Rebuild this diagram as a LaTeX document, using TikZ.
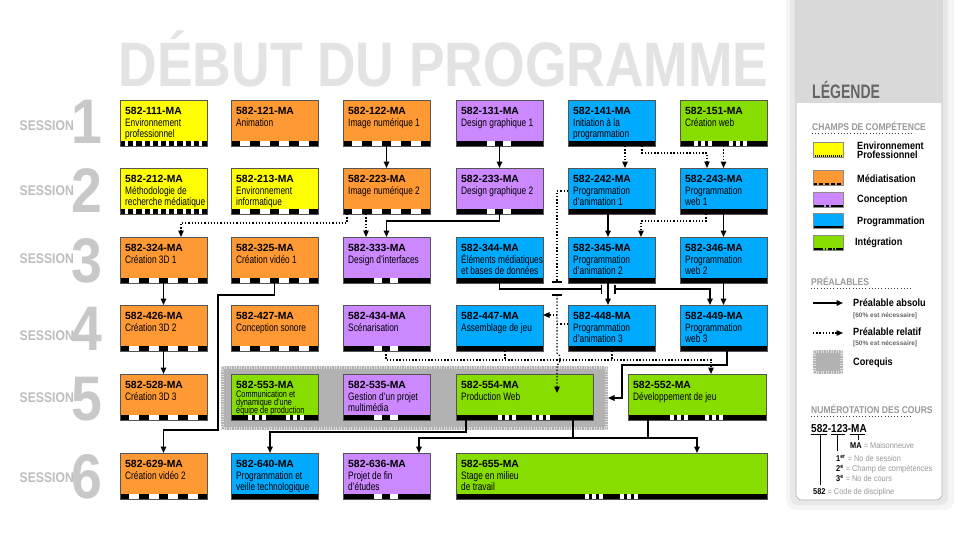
\documentclass[tikz,border=0pt]{standalone}
\usepackage{fontspec}
\setmainfont{Liberation Sans}
\newfontfamily\plainsans{Liberation Sans}
\newfontfamily\narrowsans[FakeStretch=0.77]{Liberation Sans}
\newfontfamily\condsans[FakeStretch=0.87]{Liberation Sans}
\newfontfamily\numsans[FakeStretch=0.88]{Liberation Sans}
\newfontfamily\titlesans[FakeStretch=0.85]{Liberation Sans}
\newfontfamily\legsans[FakeStretch=0.72]{Liberation Sans}
\usetikzlibrary{arrows.meta}
\definecolor{cyel}{HTML}{FFFF00}
\definecolor{cora}{HTML}{FF9933}
\definecolor{cpur}{HTML}{CC88FF}
\definecolor{cblu}{HTML}{00AAFF}
\definecolor{cgre}{HTML}{88DD00}
\definecolor{titlegray}{HTML}{E3E3E3}
\definecolor{sessgray}{HTML}{BEBEBE}
\definecolor{numgray}{HTML}{C8C8C8}
\definecolor{leggray}{HTML}{999999}
\definecolor{legdark}{HTML}{666666}
\definecolor{panelgray}{HTML}{D9D9D9}
\definecolor{boxline}{HTML}{555555}
\tikzset{
  tri/.tip={Triangle[width=5.5pt,length=6.5pt]},
  box/.style={inner sep=0pt,outer sep=0pt,minimum height=46pt,anchor=north west},
  boxedge/.style={draw=boxline,line width=0.6pt},
  codetext/.style={inner sep=0pt,anchor=base west,font=\plainsans\bfseries\fontsize{10.4}{12}\selectfont},
  desctext/.style={inner sep=0pt,anchor=base west,font=\narrowsans\fontsize{10.8}{12}\selectfont},
  smalldesc/.style={inner sep=0pt,anchor=base west,font=\narrowsans\fontsize{9.5}{10}\selectfont},
  stripdense/.style={dash pattern=on 5.2pt off 3pt},
  stripora/.style={dash pattern=on 9.4pt off 10pt},
  strippur/.style={dash pattern=on 31pt off 8pt on 8pt off 8pt on 400pt off 1pt},
  stripblu/.style={solid},
  stripgre/.style 2 args={dash pattern=on #1pt off 4pt on 3pt off 4pt on 3pt off 4pt on #2pt off 4pt on 3pt off 4pt on 3pt off 4pt on 400pt off 1pt},
  pa/.style={draw=black,line width=1.5pt,-tri},
  pal/.style={draw=black,line width=1.5pt},
  pr/.style={draw=black,line width=1.3pt,dash pattern=on 1.3pt off 1.9pt,-tri},
  prl/.style={draw=black,line width=1.3pt,dash pattern=on 1.3pt off 1.9pt},
  tick/.style={draw=black,line width=1.5pt},
  sess/.style={inner sep=0pt,anchor=base east,text=sessgray,font=\condsans\bfseries\fontsize{14}{14}\selectfont},
  num/.style={inner sep=0pt,anchor=base,text=numgray,font=\numsans\bfseries\fontsize{63}{63}\selectfont},
  coreqbox/.style={fill=black!30,inner sep=0pt,outer sep=0pt,anchor=north west},
  combline/.style={draw=white!88!black,line width=3pt,dash pattern=on 1pt off 1.5pt},
  lghead/.style={inner sep=0pt,anchor=base west,text=legdark,font=\legsans\bfseries\fontsize{19.5}{20}\selectfont},
  lgsub/.style={inner sep=0pt,anchor=base west,text=leggray,font=\condsans\bfseries\fontsize{9.8}{10}\selectfont},
  lgitem/.style={inner sep=0pt,anchor=base west,text=black,font=\condsans\bfseries\fontsize{10.5}{11}\selectfont},
  lgsmall/.style={inner sep=0pt,anchor=base west,text=legdark,font=\plainsans\bfseries\fontsize{6.5}{7}\selectfont},
  lgnum/.style={inner sep=0pt,anchor=base west,text=leggray,font=\numsans\fontsize{8.4}{9}\selectfont},
  legdots/.style={draw=black!75,line width=1pt,dash pattern=on 1pt off 2.2pt},
  swatchbox/.style={inner sep=0pt,outer sep=0pt,minimum width=30pt,minimum height=15pt,anchor=north west},
  numline/.style={draw=black,line width=0.8pt},
}
% course box: name, x, y, width, colour, strip style
\newcommand\course[6]{%
  \node[box,fill=#5,minimum width=#4pt] (c#1) at (#2,#3) {};
  \fill[white] (#2,{#3+41}) rectangle ({#2+#4},{#3+46});
  \draw[line width=5pt,#6] (#2,{#3+43.5}) -- ({#2+#4},{#3+43.5});
  \draw[boxedge] (c#1.north west) rectangle (c#1.south east);
  \node[codetext] (k#1) at ([shift={(5,14)}]c#1.north west) {582-#1-MA};
}
\newcommand\descone[2]{\node[desctext] (a#1) at ([shift={(5,26)}]c#1.north west) {#2};}
\newcommand\desctwo[3]{%
  \node[desctext] (a#1) at ([shift={(5,26)}]c#1.north west) {#2};
  \node[desctext] (b#1) at ([shift={(5,37)}]c#1.north west) {#3};}
\newcommand\combs[1]{%
  \draw[combline] ([yshift=-1.5pt]#1.north west) -- ([yshift=-1.5pt]#1.north east);
  \draw[combline] ([yshift=1.5pt]#1.south west) -- ([yshift=1.5pt]#1.south east);
  \draw[combline] ([xshift=1.5pt]#1.north west) -- ([xshift=1.5pt]#1.south west);
  \draw[combline] ([xshift=-1.5pt]#1.north east) -- ([xshift=-1.5pt]#1.south east);}
\newcommand\swatch[4]{%
  \node[swatchbox,fill=#3] (w#1) at (813,#2) {};
  \draw[line width=2pt,#4] ([yshift=1pt]w#1.south west) -- ([yshift=1pt]w#1.south east);
  \draw[draw=black!45,line width=0.5pt] (w#1.north west) rectangle (w#1.south east);}
\begin{document}
\begin{tikzpicture}[x=1pt,y=-1pt]
\useasboundingbox (0,0) rectangle (980,535);
\fill[white] (0,0) rectangle (980,535);

% title
\node[inner sep=0pt,anchor=base,text=titlegray,font=\titlesans\bfseries\fontsize{62.8}{63}\selectfont] (title) at (443.5,87) {DÉBUT DU PROGRAMME};

% sessions
\foreach \n/\sb/\nb in {1/130/143,2/195/212,3/263/282,4/340/350,5/402/420,6/482/498}{
  \node[sess] (s\n) at (74,\sb) {SESSION};
  \node[num] (n\n) at (86.5,\nb) {\n};
}

% corequis group
\node[coreqbox,minimum width=387pt,minimum height=64pt] (coreq) at (221,366) {};
\combs{coreq}

% row 1
\course{111}{120}{100}{87}{cyel}{stripdense}\desctwo{111}{Environnement}{professionnel}
\course{121}{231}{100}{87}{cora}{stripora}\descone{121}{Animation}
\course{122}{343}{100}{87}{cora}{stripora}\descone{122}{Image numérique 1}
\course{131}{456}{100}{87}{cpur}{strippur}\descone{131}{Design graphique 1}
\course{141}{568}{100}{87}{cblu}{stripblu}\desctwo{141}{Initiation à la}{programmation}
\course{151}{680}{100}{87}{cgre}{stripgre={14}{17}}\descone{151}{Création web}
% row 2
\course{212}{120}{168}{87}{cyel}{stripdense}\desctwo{212}{Méthodologie de}{recherche médiatique}
\course{213}{231}{168}{87}{cyel}{stripora}\desctwo{213}{Environnement}{informatique}
\course{223}{343}{168}{87}{cora}{stripora}\descone{223}{Image numérique 2}
\course{233}{456}{168}{87}{cpur}{strippur}\descone{233}{Design graphique 2}
\course{242}{568}{168}{87}{cblu}{stripblu}\desctwo{242}{Programmation}{d’animation 1}
\course{243}{680}{168}{87}{cblu}{stripblu}\desctwo{243}{Programmation}{web 1}
% row 3
\course{324}{120}{237}{87}{cora}{stripora}\descone{324}{Création 3D 1}
\course{325}{231}{237}{87}{cora}{stripora}\descone{325}{Création vidéo 1}
\course{333}{343}{237}{87}{cpur}{strippur}\descone{333}{Design d’interfaces}
\course{344}{456}{237}{87}{cblu}{stripblu}\desctwo{344}{Éléments médiatiques}{et bases de données}
\course{345}{568}{237}{87}{cblu}{stripblu}\desctwo{345}{Programmation}{d’animation 2}
\course{346}{680}{237}{87}{cblu}{stripblu}\desctwo{346}{Programmation}{web 2}
% row 4
\course{426}{120}{305}{87}{cora}{stripora}\descone{426}{Création 3D 2}
\course{427}{231}{305}{87}{cora}{stripora}\descone{427}{Conception sonore}
\course{434}{343}{305}{87}{cpur}{strippur}\descone{434}{Scénarisation}
\course{447}{456}{305}{87}{cblu}{stripblu}\descone{447}{Assemblage de jeu}
\course{448}{568}{305}{87}{cblu}{stripblu}\desctwo{448}{Programmation}{d’animation 3}
\course{449}{680}{305}{87}{cblu}{stripblu}\desctwo{449}{Programmation}{web 3}
% row 5
\course{528}{120}{374}{87}{cora}{stripora}\descone{528}{Création 3D 3}
\course{553}{231}{374}{87}{cgre}{stripgre={17}{20}}
\node[smalldesc] (a553) at ([shift={(5,23)}]c553.north west) {Communication et};
\node[smalldesc] (b553) at ([shift={(5,31)}]c553.north west) {dynamique d’une};
\node[smalldesc] (e553) at ([shift={(5,39)}]c553.north west) {équipe de production};
\course{535}{343}{374}{87}{cpur}{strippur}\desctwo{535}{Gestion d’un projet}{multimédia}
\course{554}{456}{374}{137}{cgre}{stripgre={42}{16}}\descone{554}{Production Web}
\course{552}{628}{374}{138}{cgre}{stripgre={42}{17}}\descone{552}{Développement de jeu}
% row 6
\course{629}{120}{453}{87}{cora}{stripora}\descone{629}{Création vidéo 2}
\course{640}{231}{453}{87}{cblu}{stripblu}\desctwo{640}{Programmation et}{veille technologique}
\course{636}{343}{453}{87}{cpur}{strippur}\desctwo{636}{Projet de fin}{d’études}
\course{655}{456}{453}{311}{cgre}{stripgre={129}{17}}\desctwo{655}{Stage en milieu}{de travail}

% ---- connectors: absolute prerequisites
\draw[pa] (c122.south) -- (c223.north);
\draw[pa] (c131.south) -- (c233.north);
\draw[pa] (c233.south) -- ++(0,7) -| (c333.north);
\draw[pa] ([xshift=40pt]c242.south west) -- ([xshift=40pt]c345.north west);
\draw[pa] (c243.south) -- (c346.north);
\draw[pa] (c324.south) -- (c426.north);
\draw[pa] (c325.south) -- ++(0,12) -- ++(-56.5,0) -- ++(0,135) -| (c629.north);
\draw[pal,-{Bar[width=9pt]}] (c344.south) |- ([xshift=34pt,yshift=-6pt]c345.south west);
\draw[pal,{Bar[width=9pt]}-tri] ([xshift=46pt,yshift=-6pt]c345.south west) -| ([xshift=30pt]c449.north west);
\draw[pa] ([xshift=40pt]c345.south west) -- ([xshift=40pt]c448.north west);
\draw[pa] (c346.south) -- (c449.north);
\draw[pa] (c426.south) -- (c528.north);
\draw[pa] ([xshift=47pt]c449.south west) -- ++(0,14) -- ++(-105,0) |- (coreq.east);
\draw[pa] ([xshift=10pt]c554.south west) -- ++(0,12) -| ([xshift=39pt]c640.north west);
\draw[pa] ([xshift=117pt]c554.south west) -- ++(0,18) -| ([xshift=76pt]c636.north west);
\draw[pa] ([xshift=117pt]c554.south west) -- ++(0,18) -| ([xshift=241pt]c655.north west);
\draw[pal] ([xshift=20pt]c552.south west) -- ++(0,18);

% ---- relative prerequisites
\draw[pr] ([xshift=57pt]c141.south west) -- ([xshift=57pt]c242.north west);
\draw[pr] ([xshift=74pt]c141.south west) -- ++(0,7) -| ([xshift=27pt]c243.north west);
\draw[pr] (c151.south) -- (c243.north);
\draw[pr] ([xshift=4pt]c223.south west) -- ++(0,9) -| ([xshift=61pt]c324.north west);
\draw[pr] ([xshift=23pt]c223.south west) -- ([xshift=23pt]c333.north west);
\draw[pr] ([xshift=26pt]c243.south west) -- ++(0,7) -| ([xshift=73pt]c345.north west);
\coordinate (x1) at (557,282);
\coordinate (x2) at (557,295);
\draw[prl] (c242.west) -| (x1);
\draw[tick] ([xshift=-5pt]x1) -- ([xshift=5pt]x1);
\draw[tick] ([xshift=-5pt]x2) -- ([xshift=5pt]x2);
\draw[pr] ([xshift=43pt]c434.south west) -- ++(0,9) -| ([xshift=83pt]c552.north west);
\draw[prl] ([xshift=49pt]c447.south west) -- ++(0,9);
\draw[prl] ([xshift=44pt]c448.south west) -- ++(0,9);
\draw[pr] (x2) -- ++(0,58) arc[start angle=-90,end angle=90,x radius=3,y radius=6] -- ([xshift=101pt,yshift=-19pt]c554.north west);
\draw[pr] ([xshift=14pt,yshift=-10pt]c447.north east) -- ([yshift=-10pt]c447.north east);
\draw[prl] ([yshift=-19pt]c448.north west) -- ++(-11,0);

% ---- legend panel
\fill[black!4,rounded corners=10pt] (786,-20) rectangle (954,510);
\fill[black!9,rounded corners=8pt] (790,-20) rectangle (948,505);
\path[fill=white,draw=black!30,line width=0.6pt,rounded corners=6pt] (796,-20) rectangle (942,500);
\fill[panelgray] (796.3,0) rectangle (941.7,103);
\node[lghead] (lgt) at (812,99) {LÉGENDE};
\node[lgsub] (lgc) at (812,130) {CHAMPS DE COMPÉTENCE};
\draw[legdots] ([yshift=-3.5pt]lgc.base west) -- ++(101,0);
\swatch{y}{142}{cyel}{dash pattern=on 1pt off 1pt}
\swatch{o}{170}{cora}{dash pattern=on 4pt off 2pt}
\swatch{p}{192}{cpur}{dash pattern=on 11pt off 2pt on 3pt off 2pt on 30pt off 1pt}
\swatch{b}{213}{cblu}{solid}
\swatch{g}{235}{cgre}{dash pattern=on 10pt off 1.5pt on 1.5pt off 1.5pt on 4pt off 1.5pt on 1.5pt off 1.5pt on 30pt off 1pt}
\node[lgitem] (ly1) at (857,149) {Environnement};
\node[lgitem] (ly2) at (857,158) {Professionnel};
\node[lgitem] (lo) at (857,182) {Médiatisation};
\node[lgitem] (lp) at (857,202) {Conception};
\node[lgitem] (lb) at (857,224) {Programmation};
\node[lgitem] (lg) at (855,245) {Intégration};
\node[lgsub] (lpre) at (811,285) {PRÉALABLES};
\draw[legdots] ([yshift=-3.5pt]lpre.base west) -- ++(102,0);
\coordinate (pa1) at (813,303);
\coordinate (pa2) at (843,303);
\draw[pa] (pa1) -- (pa2);
\node[lgitem] (lpa) at (853,306) {Préalable absolu};
\node[lgsmall] (lpa2) at (853,317) {[60\% est nécessaire]};
\coordinate (pr1) at (813,333);
\coordinate (pr2) at (843,333);
\draw[pr] (pr1) -- (pr2);
\node[lgitem] (lpr) at (853,335) {Préalable relatif};
\node[lgsmall] (lpr2) at (853,345) {[50\% est nécessaire]};
\node[coreqbox,minimum width=30pt,minimum height=24pt] (lcoreq) at (813,350) {};
\combs{lcoreq}
\node[lgitem] (lco) at (853,365) {Corequis};
\node[lgsub] (lnum) at (811,413) {NUMÉROTATION DES COURS};
\draw[legdots] ([yshift=-3.5pt]lnum.base west) -- ++(102,0);
\node[inner sep=0pt,anchor=base west,font=\condsans\bfseries\fontsize{11.5}{12}\selectfont] (lcode) at (811,432) {582-123-MA};
\coordinate (u1a) at (811,434.5); \coordinate (u1b) at (827,434.5);
\coordinate (u2a) at (831,434.5); \coordinate (u2b) at (845,434.5);
\coordinate (u3a) at (850,434.5); \coordinate (u3b) at (865,434.5);
\draw[numline] (u1a) -- (u1b);
\draw[numline] (u2a) -- (u2b);
\draw[numline] (u3a) -- (u3b);
\draw[numline] (858,434.5) -- (858,440);
\draw[numline] (837,434.5) -- (837,451);
\draw[numline] (820,434.5) -- (820,485);
\node[lgnum] (lma) at (850,448) {\textcolor{black}{\bfseries MA} = Maisonneuve};
\node[lgnum] (l1) at (836,461) {\textcolor{black}{\bfseries 1\textsuperscript{er}} = No de session};
\node[lgnum] (l2) at (836,471) {\textcolor{black}{\bfseries 2\textsuperscript{e}} = Champ de compétences};
\node[lgnum] (l3) at (836,481) {\textcolor{black}{\bfseries 3\textsuperscript{e}} = No de cours};
\node[lgnum] (l5) at (813,494) {\textcolor{black}{\bfseries 582} = Code de discipline};
\end{tikzpicture}
\end{document}
